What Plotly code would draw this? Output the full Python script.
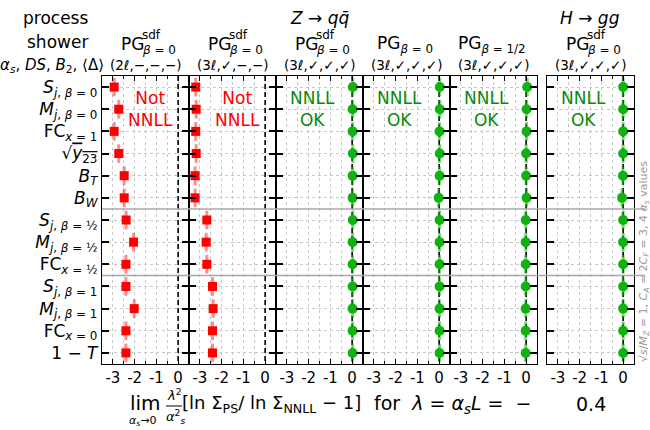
import plotly.graph_objects as go

# ---------------- data ----------------
observables = [
    "<i>S</i><sub><i>j</i>, <i>β</i> = 0</sub>",
    "<i>M</i><sub><i>j</i>, <i>β</i> = 0</sub>",
    "FC<sub><i>x</i> = 1</sub>",
    "√<span style='text-decoration:overline'><i>y</i><sub>23</sub></span>",
    "<i>B</i><sub><i>T</i></sub>",
    "<i>B</i><sub><i>W</i></sub>",
    "<i>S</i><sub><i>j</i>, <i>β</i> = ½</sub>",
    "<i>M</i><sub><i>j</i>, <i>β</i> = ½</sub>",
    "FC<sub><i>x</i> = ½</sub>",
    "<i>S</i><sub><i>j</i>, <i>β</i> = 1</sub>",
    "<i>M</i><sub><i>j</i>, <i>β</i> = 1</sub>",
    "FC<sub><i>x</i> = 0</sub>",
    "1 − <i>T</i>",
]
rows = list(range(len(observables)))

shower_names = ["PG", "PG", "PG", "PG", "PG", "PG"]
shower_sup = ["sdf", "sdf", "sdf", "", "", "sdf"]
shower_sub = ["<i>β</i> = 0", "<i>β</i> = 0", "<i>β</i> = 0", "<i>β</i> = 0", "<i>β</i> = 1/2", "<i>β</i> = 0"]
settings = ["(2ℓ,−,−,−)", "(3ℓ,✓,−,−)", "(3ℓ,✓,✓,✓)", "(3ℓ,✓,✓,✓)", "(3ℓ,✓,✓,✓)", "(3ℓ,✓,✓,✓)"]
nnll_ok = [False, False, True, True, True, True]

vals_p1 = [-2.94, -2.73, -2.94, -2.73, -2.48, -2.48, -2.39, -2.05, -2.40, -2.40, -2.02, -2.40, -2.40]
vals_p2 = [-3.19, -3.17, -3.19, -3.17, -3.22, -3.22, -2.68, -2.71, -2.68, -2.42, -2.39, -2.42, -2.42]
vals_p3 = [0.03, 0.02, 0.02, 0.03, 0.02, 0.02, 0.03, 0.02, 0.02, 0.02, 0.02, 0.02, 0.02]
vals_p4 = [0.03, 0.03, 0.02, 0.03, 0.02, -0.02, 0.02, 0.02, 0.02, 0.02, 0.02, 0.02, 0.02]
vals_p5 = [0.05, 0.02, 0.02, 0.0, 0.0, 0.02, -0.02, -0.02, -0.02, -0.02, -0.02, -0.02, -0.02]
vals_p6 = [0.0, 0.0, 0.0, 0.0, -0.01, -0.05, 0.0, 0.0, 0.0, 0.0, 0.0, 0.0, 0.0]
panel_vals = [vals_p1, vals_p2, vals_p3, vals_p4, vals_p5, vals_p6]

xtick_vals = [-3, -2, -1, 0]
xtick_text = ["-3", "-2", "-1", "0"]
zero_ref = [0, 0]
row_span = [-0.5, 12.5]

# ---------------- layout helpers ----------------
W, H = 650, 430
FONT = "DejaVu Sans"
RED = "#ff0000"
GREEN_M = "#0fb30f"
GREEN_T = "#0a8a0a"
NB = "\u00a0"

def px(x):
    return x / W

def py(y):
    return 1 - y / H

panel_left = [102, 189, 276, 363, 450, 547]
panel_w = 87
y_top, y_bot = 76, 364

fig = go.Figure()

def label(x, y, text, size, color="black", xanchor="center", yanchor="middle", **kw):
    fig.add_annotation(xref="paper", yref="paper", x=px(x), y=py(y), text=text,
                       showarrow=False, xanchor=xanchor, yanchor=yanchor,
                       font=dict(family=FONT, size=size, color=color), **kw)

for i, vals in enumerate(panel_vals):
    n = i + 1
    xa = "x" if n == 1 else f"x{n}"
    ya = "y" if n == 1 else f"y{n}"
    ok = nnll_ok[i]
    # dashed reference line at zero (drawn first, under the markers)
    fig.add_trace(go.Scatter(
        x=zero_ref, y=row_span, xaxis=xa, yaxis=ya, mode="lines",
        line=dict(color="black", width=1.6, dash="5px,3px"),
        showlegend=False, hoverinfo="skip",
    ))
    fig.add_trace(go.Scatter(
        x=vals, y=rows, xaxis=xa, yaxis=ya, mode="markers",
        marker=dict(symbol="circle" if ok else "square", size=10 if ok else 9,
                    color=GREEN_M if ok else RED, line=dict(width=0)),
        error_y=dict(type="constant", value=0.42, thickness=3, width=0,
                     color="rgba(15,179,15,0.55)" if ok else "rgba(255,0,0,0.45)"),
        showlegend=False, hoverinfo="skip",
    ))
    xkey = "xaxis" if n == 1 else f"xaxis{n}"
    ykey = "yaxis" if n == 1 else f"yaxis{n}"
    fig.layout[xkey] = dict(
        domain=[px(panel_left[i]), px(panel_left[i] + panel_w)],
        anchor=ya, range=[-3.5, 0.5],
        tickmode="array", tickvals=xtick_vals, ticktext=xtick_text,
        ticks="inside", ticklen=5, tickwidth=1.2, tickcolor="black",
        showline=True, linecolor="black", linewidth=1.3, mirror="ticks",
        showgrid=True, gridcolor="#c8c8c8", griddash="dot", gridwidth=1,
        minor=dict(dtick=0.5, tick0=0, ticks="inside", ticklen=3, tickcolor="black",
                   showgrid=True, gridcolor="#c8c8c8", griddash="dot", gridwidth=1),
        zeroline=False, tickfont=dict(family=FONT, size=15, color="black"),
        fixedrange=True,
    )
    fig.layout[ykey] = dict(
        domain=[py(y_bot), py(y_top)], anchor=xa,
        range=[12.5, -0.5], tickmode="array", tickvals=rows,
        ticktext=observables, showticklabels=(n == 1),
        ticks="inside", ticklen=7, tickwidth=1.5, tickcolor="black",
        showline=True, linecolor="black", linewidth=1.3, mirror="ticks",
        showgrid=True, gridcolor="#c8c8c8", griddash="dot", gridwidth=1,
        zeroline=False, tickfont=dict(family=FONT, size=17, color="black"),
        fixedrange=True,
    )
    # verdict text
    fig.add_annotation(
        xref=xa, yref=ya, x=-1.84 if ok else -1.29, y=1.0,
        text="NNLL<br>OK" if ok else "Not<br>NNLL", showarrow=False,
        font=dict(family=FONT, size=17, color=GREEN_T if ok else RED),
        xanchor="center", yanchor="middle",
    )
    # header: shower
    cx = panel_left[i] + panel_w / 2
    if shower_sup[i]:
        label(cx + 0.5, 44, shower_names[i], 17, xanchor="right")
        label(cx - 5.5, 35, shower_sup[i], 12, xanchor="left")
        label(cx - 5.5, 50, shower_sub[i], 12, xanchor="left")
    else:
        label(cx - 2, 44, f"{shower_names[i]}<sub>{shower_sub[i]}</sub>", 17)
    label(cx, 65, settings[i], 13.5)

# separators between observable groups
for ysep in [5.5, 8.5]:
    fig.add_shape(type="line", xref="paper", yref="y", x0=px(102), x1=px(645), y0=ysep, y1=ysep,
                  line=dict(color="#a8a8a8", width=1.5), layer="above")

# left header column
label(55, 18, "process", 17)
label(58, 42, "shower", 17)
label(52, 65, "<i>α</i><sub><i>s</i></sub>, <i>DS</i>, <i>B</i><sub>2</sub>, ⟨Δ⟩", 15)
# process headers
label(320, 18, "<i>Z</i> → <i>q</i><i>q̄</i>", 17)
label(590, 18, "<i>H</i> → <i>gg</i>", 17)

# x-axis title built from pieces
label(145, 403, "lim", 20)
label(143, 421, "<i>α</i><sub><i>s</i></sub>→0", 11)
label(174, 395, "<i>λ</i><sup>2</sup>", 13)
label(175, 417, "<i>α</i><sup>2</sup><sub><i>s</i></sub>", 13)
fig.add_shape(type="line", xref="paper", yref="paper", x0=px(166), x1=px(182), y0=py(406), y1=py(406),
              line=dict(color="black", width=1))
label(180, 404, "[ln Σ<sub>PS</sub>/ ln Σ<sub>NNLL</sub> − 1]", 18, xanchor="left")
label(372, 404, f"for{NB}{NB}<i>λ</i>{NB}={NB}<i>α</i><sub><i>s</i></sub><i>L</i>{NB}={NB}{NB}−", 19, xanchor="left")
label(574, 404, "0.4", 19, xanchor="left")

# rotated side note
label(644, 262, "√<i>s</i>/<i>M</i><sub><i>Z</i></sub> = 1, <i>C</i><sub><i>A</i></sub> = 2<i>C</i><sub><i>F</i></sub> = 3, 4 <i>α</i><sub><i>s</i></sub> values",
      11, color="#9a9a9a", textangle=-90)

fig.update_layout(
    width=W, height=H, margin=dict(l=0, r=0, t=0, b=0),
    paper_bgcolor="white", plot_bgcolor="white",
    font=dict(family=FONT, color="black"), showlegend=False,
)

fig.write_html("out.html")
